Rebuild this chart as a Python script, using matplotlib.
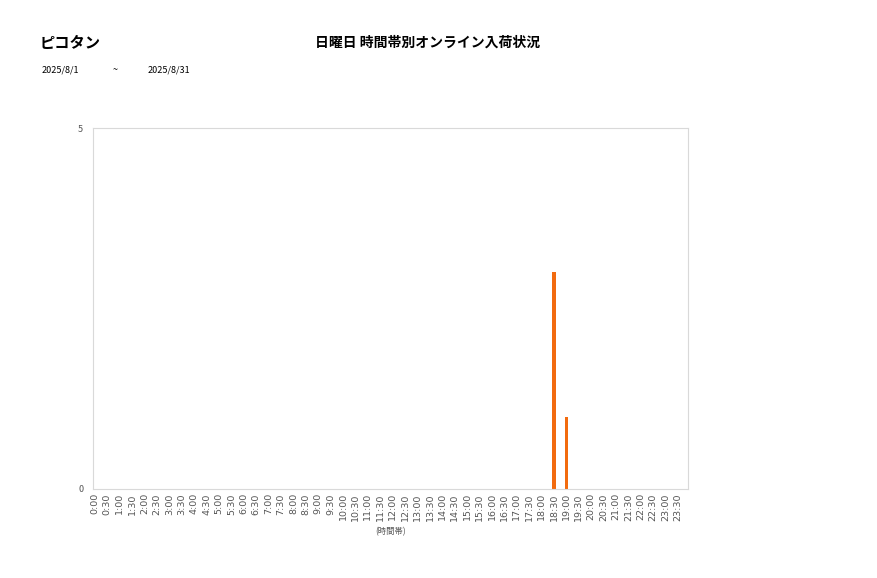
import matplotlib.pyplot as plt
import numpy as np

plt.rcParams['font.family'] = ['Noto Sans CJK JP', 'DejaVu Sans']

# =====================================================
# DATA
# =====================================================

time_labels = [f"{h}:{m:02d}" for h in range(24) for m in (0, 30)]
values = [0] * 48
values[time_labels.index("18:30")] = 3
values[time_labels.index("19:00")] = 1

shop_name = "ピコタン"
chart_title = "日曜日 時間帯別オンライン入荷状況"
date_from = "2025/8/1"
date_to = "2025/8/31"

# =====================================================
# PLOT
# =====================================================

fig = plt.figure(figsize=(8.77, 5.78), dpi=100)
ax = fig.add_axes([0.106, 0.154, 0.6785, 0.6245])

x = np.arange(len(time_labels))
ax.bar(x, values, width=0.28, color="#F26B0F", linewidth=0)

ax.set_xlim(-0.16, 47.8)
ax.set_ylim(0, 5)
ax.set_yticks([0, 5])
ax.set_xticks(x)
ax.set_xticklabels(time_labels, rotation=90, fontsize=6.8, color="#555555",
                   family=['DejaVu Sans'])
ax.tick_params(axis="y", labelsize=6.5, colors="#555555", length=0, pad=7)
ax.tick_params(axis="x", length=0, pad=3)

for spine in ax.spines.values():
    spine.set_color("#D9D9D9")

ax.set_xlabel("(時間帯)", fontsize=6, color="#555555", labelpad=5)

fig.text(40 / 877, 1 - 43 / 578, shop_name, fontsize=11, fontweight="bold",
         va="center", ha="left")
fig.text(428 / 877, 1 - 43 / 578, chart_title, fontsize=10, fontweight="bold",
         va="center", ha="center")
fig.text(42 / 877, 1 - 70 / 578, date_from, fontsize=6.5, va="center")
fig.text(113 / 877, 1 - 70 / 578, "~", fontsize=6.5, va="center")
fig.text(148 / 877, 1 - 70 / 578, date_to, fontsize=6.5, va="center")

fig.savefig("out.png", dpi=100)
